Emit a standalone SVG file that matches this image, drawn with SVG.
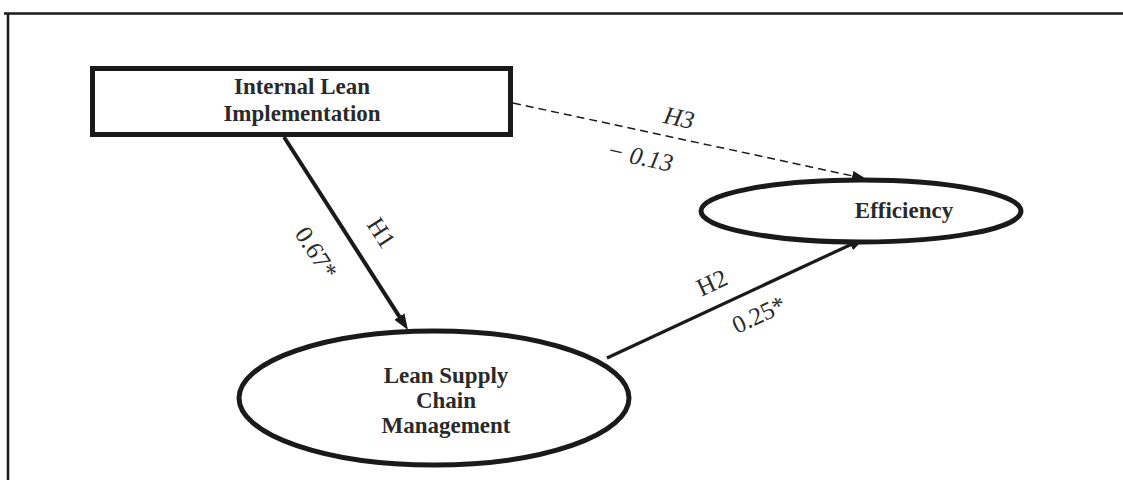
<svg xmlns="http://www.w3.org/2000/svg" width="1123" height="480" viewBox="0 0 1123 480">
  <style>
    .node { fill: #ffffff; stroke: #1a1a1a; stroke-width: 5; }
    .title { font-family: "Liberation Serif", "Times New Roman", serif; font-weight: bold; font-size: 23px; fill: #2a2a2a; text-anchor: middle; }
    .path { fill: none; stroke: #1a1a1a; }
    .lbl { font-family: "Liberation Serif", "Times New Roman", serif; font-size: 25px; fill: #2a2a2a; text-anchor: middle; }
    .it { font-style: italic; }
  </style>
  <defs>
    <marker id="arrow" viewBox="0 0 16 12" refX="6" refY="6" markerWidth="16" markerHeight="12" markerUnits="userSpaceOnUse" orient="auto">
      <path d="M0,0 L16,6 L0,12 z" fill="#1a1a1a"/>
    </marker>
    <marker id="arrowSmall" viewBox="0 0 14 10" refX="5" refY="5" markerWidth="14" markerHeight="10" markerUnits="userSpaceOnUse" orient="auto">
      <path d="M0,0 L14,5 L0,10 z" fill="#1a1a1a"/>
    </marker>
  </defs>

  <rect width="1123" height="480" fill="#ffffff"/>

  <!-- outer frame (top and left edges) -->
  <g id="frame" fill="none" stroke="#1a1a1a">
    <line x1="4" y1="13.5" x2="1123" y2="13.5" stroke-width="2.5"/>
    <line x1="8" y1="13" x2="8" y2="480" stroke-width="2.5"/>
  </g>

  <!-- paths between constructs -->
  <g id="connectors">
    <line class="path" x1="284" y1="137" x2="402.6" y2="321.6" stroke-width="4" marker-end="url(#arrow)"/>
    <line class="path" x1="607" y1="358" x2="855.9" y2="242.2" stroke-width="3.2" marker-end="url(#arrow)"/>
    <line class="path" x1="513" y1="103" x2="857.2" y2="176.9" stroke-width="1.5" stroke-dasharray="8 5" marker-end="url(#arrowSmall)"/>

    <text class="lbl" transform="translate(381,233) rotate(57)" dy="8">H1</text>
    <text class="lbl" transform="translate(316,253) rotate(57)" dy="8">0.67*</text>
    <text class="lbl" transform="translate(712,283) rotate(-25)" dy="8">H2</text>
    <text class="lbl" transform="translate(759,315) rotate(-25)" dy="8">0.25*</text>
    <text class="lbl it" transform="translate(679,118) rotate(12)" dy="8">H3</text>
    <text class="lbl it" transform="translate(640,157) rotate(12)" dy="8">− 0.13</text>
  </g>

  <g id="internal-lean">
    <rect class="node" x="92.5" y="68.5" width="418" height="66"/>
    <text class="title" x="302" y="94">Internal Lean</text>
    <text class="title" x="302" y="121">Implementation</text>
  </g>

  <g id="lean-supply-chain">
    <ellipse class="node" cx="434" cy="398" rx="195" ry="67"/>
    <text class="title" x="446" y="383">Lean Supply</text>
    <text class="title" x="446" y="408">Chain</text>
    <text class="title" x="446" y="433">Management</text>
  </g>

  <g id="efficiency">
    <ellipse class="node" cx="861" cy="211" rx="160" ry="31"/>
    <text class="title" x="904" y="218">Efficiency</text>
  </g>
</svg>
